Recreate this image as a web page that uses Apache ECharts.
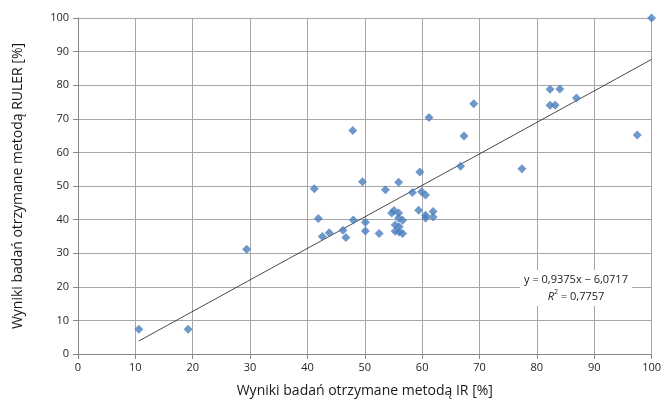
<!DOCTYPE html>
<html>
<head>
<meta charset="utf-8">
<script src="https://cdn.jsdelivr.net/npm/echarts@6/dist/echarts.min.js"></script>
<style>
  html, body { margin: 0; padding: 0; background: #fff; }
  #chart { width: 664px; height: 407px; }
</style>
</head>
<body>
<div id="chart"></div>
<script>
// Wyniki pomiarów: metoda IR (oś X) i metoda RULER (oś Y), w %
const irValues = [
  10.6, 19.2, 29.4, 41.2, 41.9, 42.6, 43.8, 46.2, 46.7, 47.9,
  48.0, 49.6, 50.1, 50.1, 52.5, 53.6, 54.7, 55.1, 55.9, 55.9,
  56.6, 55.3, 56.0, 55.3, 56.0, 56.6, 55.9, 58.3, 59.4, 59.6,
  59.9, 60.6, 60.6, 60.6, 61.2, 61.9, 61.9, 66.7, 67.3, 69.0,
  77.4, 82.3, 84.0, 82.3, 83.2, 86.9, 97.5, 100.0
];
const rulerValues = [
  7.4, 7.4, 31.2, 49.2, 40.3, 35.0, 36.1, 36.8, 34.7, 66.5,
  39.9, 51.3, 39.2, 36.6, 35.9, 48.9, 42.0, 42.7, 42.0, 40.5,
  39.8, 38.4, 37.9, 36.5, 36.3, 35.9, 51.1, 48.1, 42.8, 54.2,
  48.3, 47.3, 41.3, 40.5, 70.4, 42.4, 40.8, 55.9, 64.9, 74.5,
  55.1, 78.8, 78.9, 74.0, 74.0, 76.2, 65.2, 100.0
];

// Linia trendu (regresja liniowa)
const slope = 0.9375;
const intercept = -6.0717;
const rSquared = 0.7757;
const trendRange = [10.6, 100];

const axisTicks = [0, 10, 20, 30, 40, 50, 60, 70, 80, 90, 100];

const xTitle = 'Wyniki badań otrzymane metodą IR [%]';
const yTitle = 'Wyniki badań otrzymane metodą RULER [%]';

const points = irValues.map((x, i) => [x, rulerValues[i]]);
const trendPoints = trendRange.map(x => [x, slope * x + intercept]);

const fmt = v => v.toFixed(4).replace('.', ',');
const eqLine1 = 'y = ' + fmt(slope) + 'x \u2212 ' + fmt(Math.abs(intercept));
const eqLine2 = '{it|R}{sup|2}{n| = ' + fmt(rSquared) + '}';

const FONT = '"Open Sans", "Noto Sans", sans-serif';

const chart = echarts.init(document.getElementById('chart'), null, { renderer: 'canvas' });

const axisCommon = {
  type: 'value',
  min: axisTicks[0],
  max: axisTicks[axisTicks.length - 1],
  interval: axisTicks[1] - axisTicks[0],
  axisLine: { show: true, lineStyle: { color: '#868686', width: 1 } },
  axisTick: { show: true, inside: false, length: 5, lineStyle: { color: '#868686' } },
  splitLine: { show: true, lineStyle: { color: '#a6a6a6', width: 1 } },
  nameLocation: 'middle',
  nameTextStyle: { fontFamily: FONT, fontSize: 14, color: '#1a1a1a' }
};

chart.setOption({
  backgroundColor: '#ffffff',
  animation: false,
  grid: { left: 78, right: 8, top: 18, bottom: 53, containLabel: false },
  xAxis: Object.assign({}, axisCommon, {
    name: xTitle,
    nameGap: 30,
    axisLabel: { fontFamily: FONT, fontSize: 11, color: '#262626', margin: 8 }
  }),
  yAxis: Object.assign({}, axisCommon, {
    name: yTitle,
    nameGap: 53,
    axisLabel: { fontFamily: FONT, fontSize: 11, color: '#262626', margin: 9 }
  }),
  series: [
    {
      name: 'Trend',
      type: 'line',
      data: trendPoints,
      showSymbol: false,
      symbol: 'none',
      lineStyle: { color: '#1a1a1a', width: 0.8 },
      z: 3,
      silent: true
    },
    {
      name: 'Pomiary',
      type: 'scatter',
      data: points,
      symbol: 'diamond',
      symbolSize: 9,
      itemStyle: { color: '#4a7ebb' },
      z: 4
    }
  ],
  graphic: [
    {
      type: 'text',
      x: 576,
      y: 270,
      z: 10,
      style: {
        text: eqLine1 + '\n' + eqLine2,
        align: 'center',
        verticalAlign: 'top',
        fontFamily: FONT,
        fontSize: 11,
        lineHeight: 17,
        fill: '#1a1a1a',
        backgroundColor: '#ffffff',
        padding: [1, 4, 1, 4],
        rich: {
          it: { fontStyle: 'italic', fontFamily: FONT, fontSize: 11, fill: '#1a1a1a' },
          sup: { fontFamily: FONT, fontSize: 7, verticalAlign: 'top', padding: [0, 0, 5, 0], fill: '#1a1a1a' },
          n: { fontFamily: FONT, fontSize: 11, fill: '#1a1a1a' }
        }
      }
    }
  ]
});
</script>
</body>
</html>
